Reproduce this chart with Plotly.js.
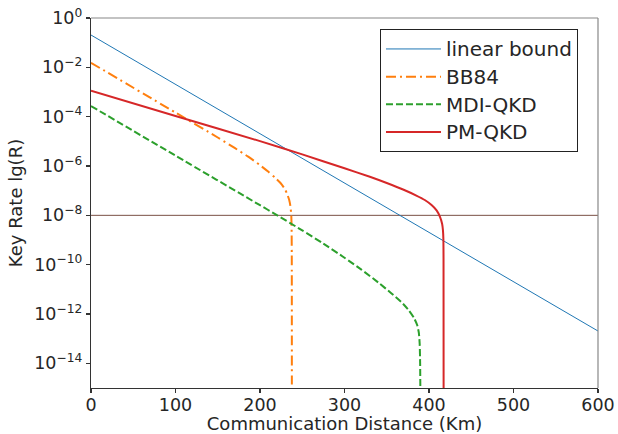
<!DOCTYPE html>
<html>
<head>
<meta charset="utf-8">
<script src="https://cdn.plot.ly/plotly-3.0.1.min.js"></script>
<style>
  html, body { margin: 0; padding: 0; background: #fff; }
  #chart { width: 618px; height: 434px; }
</style>
</head>
<body>
<div id="chart"></div>
<script>
// ---- data (distance in km, key rate R) ----
const linearDist = [0, 600];
const linearRate = [2.04e-1, 2.04e-13];

const bb84Dist = [0, 100, 150, 170, 186, 200, 210, 218, 224, 229, 232, 234.5, 236, 237, 237.4, 237.6, 237.7];
const bb84Rate = [1.53e-2, 1.46e-4, 1.43e-5, 5.38e-6, 2.39e-6, 1.08e-6, 5.79e-7, 3.32e-7, 2.09e-7, 1.23e-7, 7.57e-8, 4.25e-8, 2.33e-8, 9.95e-9, 3.09e-9, 2.43e-10, 1.38e-15];

const mdiDist = [0, 100, 200, 220, 250, 275, 300, 320, 340, 355, 367, 376, 382, 386, 388, 389, 389.5, 389.9];
const mdiRate = [2.69e-4, 2.63e-6, 2.57e-8, 1.02e-8, 2.45e-9, 7.11e-10, 1.91e-10, 6.28e-11, 1.89e-11, 7.14e-12, 3.11e-12, 1.42e-12, 7.11e-13, 3.56e-13, 1.70e-13, 5.77e-14, 1.0e-14, 1e-16];

const pmDist = [0, 100, 200, 250, 300, 330, 350, 370, 385, 395, 403, 409, 413, 415.5, 416.5, 417, 417.2, 417.3];
const pmRate = [1.12e-3, 1.07e-4, 1.02e-5, 2.95e-6, 8.1e-7, 3.66e-7, 2.04e-7, 1.09e-7, 6.35e-8, 4.18e-8, 2.62e-8, 1.58e-8, 8.65e-9, 4.59e-9, 2.52e-9, 1.11e-9, 1.97e-10, 1e-16];

const refDist = [0, 600];
const refRate = [1e-8, 1e-8];

const seriesNames = ["linear bound", "BB84", "MDI-QKD", "PM-QKD"];
const xTickVals = [0, 100, 200, 300, 400, 500, 600];
const yTickVals = [1e0, 1e-2, 1e-4, 1e-6, 1e-8, 1e-10, 1e-12, 1e-14];
const yTickText = ["10<sup>0</sup>", "10<sup>\u22122</sup>", "10<sup>\u22124</sup>", "10<sup>\u22126</sup>",
                   "10<sup>\u22128</sup>", "10<sup>\u221210</sup>", "10<sup>\u221212</sup>", "10<sup>\u221214</sup>"];

const FONT = "DejaVu Sans, sans-serif";
const TXT = "#262626";
const legendName = (s) => '<span style="font-size:20px">' + s + '</span>';

const traces = [
  {x: refDist, y: refRate, mode: "lines", showlegend: false, hoverinfo: "skip",
   line: {color: "#7a5045", width: 1}},
  {x: linearDist, y: linearRate, mode: "lines", name: legendName(seriesNames[0]),
   line: {color: "#1f77b4", width: 1}},
  {x: bb84Dist, y: bb84Rate, mode: "lines", name: legendName(seriesNames[1]),
   line: {color: "#ff7f0e", width: 2, dash: "10px,4px,2px,4px", shape: "spline", smoothing: 0.6}},
  {x: mdiDist, y: mdiRate, mode: "lines", name: legendName(seriesNames[2]),
   line: {color: "#2ca02c", width: 2, dash: "7px,3px", shape: "spline", smoothing: 0.6}},
  {x: pmDist, y: pmRate, mode: "lines", name: legendName(seriesNames[3]),
   line: {color: "#d62728", width: 2, shape: "spline", smoothing: 0.6}}
];

const layout = {
  width: 618, height: 434,
  margin: {l: 91, r: 20, t: 18, b: 46, pad: 0},
  paper_bgcolor: "#fff", plot_bgcolor: "#fff",
  font: {family: FONT, size: 17.5, color: TXT},
  showlegend: true,
  legend: {
    x: 0.570, y: 0.970, xanchor: "left", yanchor: "top",
    bgcolor: "#fff", bordercolor: "#222", borderwidth: 1,
    font: {family: FONT, size: 19, color: TXT},
    itemwidth: 55
  },
  xaxis: {
    range: [0, 600], tickvals: xTickVals, ticktext: xTickVals.map(String),
    showgrid: false, zeroline: false,
    showline: true, linecolor: "#333", linewidth: 1.2,
    ticks: "outside", ticklen: 4, tickwidth: 1.2, tickcolor: "#333",
    ticklabelstandoff: -3,
    tickfont: {family: FONT, size: 17.5, color: TXT},
    title: {text: "Communication Distance (Km)", font: {family: FONT, size: 18, color: TXT}, standoff: 11},
    automargin: false
  },
  yaxis: {
    type: "log", range: [-15, 0], tickvals: yTickVals, ticktext: yTickText,
    showgrid: false, zeroline: false,
    showline: true, linecolor: "#333", linewidth: 1.2,
    ticks: "outside", ticklen: 4, tickwidth: 1.2, tickcolor: "#333",
    tickfont: {family: FONT, size: 17.5, color: TXT},
    title: {text: "Key Rate lg(R)", font: {family: FONT, size: 18, color: TXT}, standoff: 6},
    automargin: false
  },
  shapes: [
    {type: "line", xref: "paper", yref: "paper", x0: 0, x1: 1, y0: 1, y1: 1, line: {color: "#888", width: 1.2}},
    {type: "line", xref: "paper", yref: "paper", x0: 1, x1: 1, y0: 0, y1: 1, line: {color: "#888", width: 1.2}}
  ]
};

Plotly.newPlot("chart", traces, layout, {displayModeBar: false, staticPlot: true});
</script>
</body>
</html>
